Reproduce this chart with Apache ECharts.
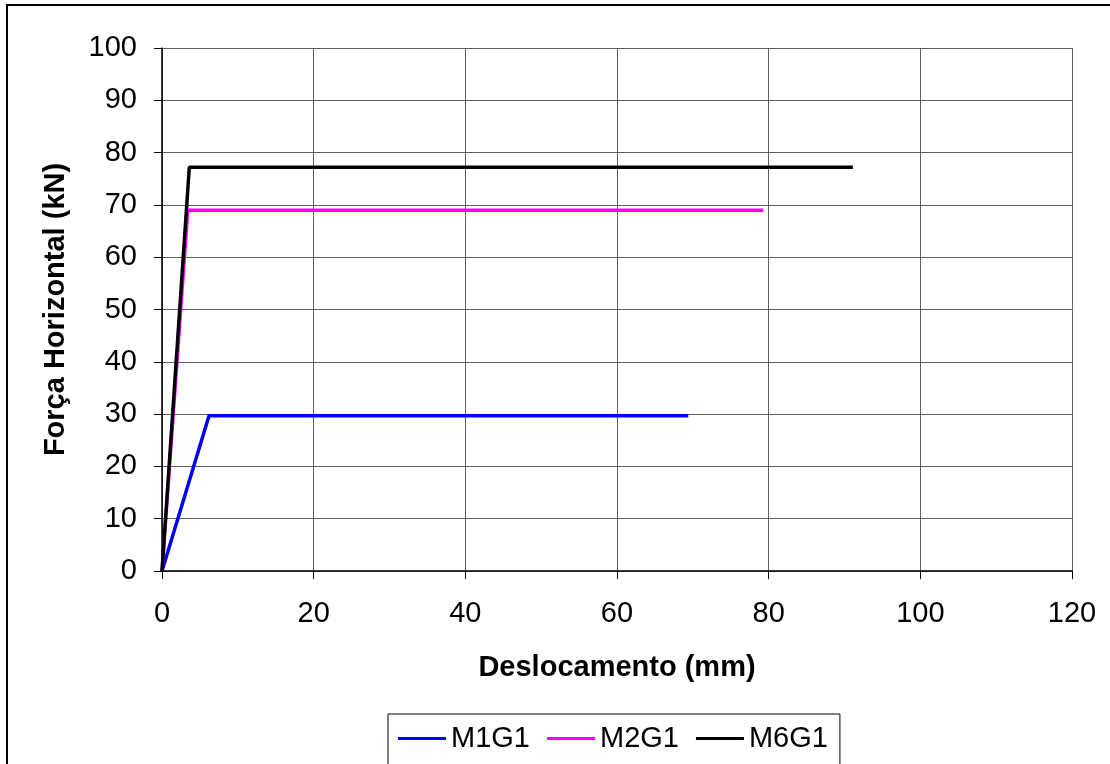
<!DOCTYPE html>
<html>
<head>
<meta charset="utf-8">
<script src="https://cdn.jsdelivr.net/npm/echarts@6/dist/echarts.min.js"></script>
<style>html,body{margin:0;padding:0;background:#fff;}#c{width:1110px;height:764px;}</style>
</head>
<body>
<div id="c"></div>
<script>
const seriesNames = ['M1G1', 'M2G1', 'M6G1'];
const m1g1 = [[0, 0], [6.2, 29.7], [69.4, 29.7]];
const m2g1 = [[0, 0], [3.4, 69.0], [79.3, 69.0]];
const m6g1 = [[0, 0], [3.6, 77.2], [91.1, 77.2]];
const colors = ['#0000FF', '#FF00FF', '#000000'];
const xTitle = 'Deslocamento (mm)';
const yTitle = 'Força Horizontal (kN)';

const chart = echarts.init(document.getElementById('c'), null, {renderer: 'canvas'});
const font = 'Liberation Sans, Arial, sans-serif';
const datasets = [m1g1, m2g1, m6g1];
chart.setOption({
  animation: false,
  backgroundColor: '#fff',
  graphic: [{
    type: 'rect', shape: {x: 7, y: 5, width: 1200, height: 900},
    style: {fill: 'none', stroke: '#000', lineWidth: 2}, silent: true, z: -1
  }],
  grid: {left: 162, top: 48, right: 38, bottom: 193, show: false},
  legend: {
    left: 388, top: 714,
    data: seriesNames,
    icon: 'rect', itemWidth: 48, itemHeight: 3, itemGap: 17,
    padding: [10, 12, 12, 10],
    borderColor: '#000', borderWidth: 1,
    textStyle: {fontFamily: font, fontSize: 29, color: '#000', padding: [0, 0, 0, 0]}
  },
  xAxis: {
    type: 'value', min: 0, max: 120, interval: 20,
    name: xTitle, nameLocation: 'middle', nameGap: 82,
    nameTextStyle: {fontFamily: font, fontSize: 29, fontWeight: 'bold', color: '#000'},
    axisLine: {onZero: false, lineStyle: {color: '#000', width: 1.5}},
    axisTick: {show: true, inside: false, length: 8, lineStyle: {color: '#000'}},
    axisLabel: {fontFamily: font, fontSize: 29, color: '#000', margin: 28},
    splitLine: {show: true, lineStyle: {color: '#606060', width: 1}}
  },
  yAxis: {
    type: 'value', min: 0, max: 100, interval: 10,
    name: yTitle, nameLocation: 'middle', nameGap: 92, nameRotate: 90,
    nameTextStyle: {fontFamily: font, fontSize: 29, fontWeight: 'bold', color: '#000'},
    axisLine: {show: true, onZero: false, lineStyle: {color: '#000', width: 1.5}},
    axisTick: {show: true, inside: false, length: 8, lineStyle: {color: '#000'}},
    axisLabel: {fontFamily: font, fontSize: 29, color: '#000', margin: 25},
    splitLine: {show: true, lineStyle: {color: '#606060', width: 1}}
  },
  series: seriesNames.map((n, i) => ({
    name: n, type: 'line', data: datasets[i], symbol: 'none', showSymbol: false,
    color: colors[i], lineStyle: {color: colors[i], width: 3.5}, z: 2 + i
  }))
});
</script>
</body>
</html>
